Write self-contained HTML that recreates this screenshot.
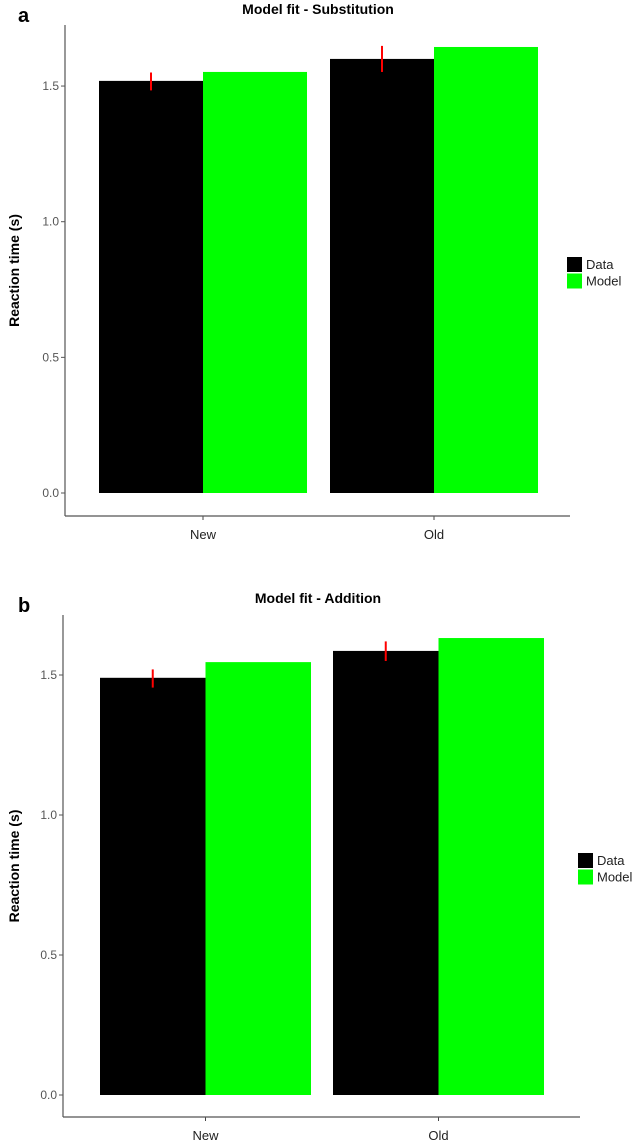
<!DOCTYPE html>
<html><head><meta charset="utf-8"><style>
body{margin:0;background:#fff;}
svg{display:block;font-family:"Liberation Sans",sans-serif;}
</style></head><body>
<svg id="fig" width="644" height="1145" viewBox="0 0 644 1145"></svg>
<script>
const categories = ["New", "Old"];
const seriesNames = ["Data", "Model"];
const aData = [1.519, 1.60];
const aModel = [1.552, 1.644];
const aErrLo = [1.484, 1.552];
const aErrHi = [1.55, 1.648];
const bData = [1.49, 1.586];
const bModel = [1.546, 1.632];
const bErrLo = [1.455, 1.55];
const bErrHi = [1.52, 1.62];
const yTicks = [0, 0.5, 1.0, 1.5];
const yTickLabels = ["0.0", "0.5", "1.0", "1.5"];

const NS = "http://www.w3.org/2000/svg";
const svg = document.getElementById("fig");
function mk(tag, attrs, parent, text){
  const e = document.createElementNS(NS, tag);
  for (const k in attrs) e.setAttribute(k, attrs[k]);
  if (text !== undefined) e.textContent = text;
  parent.appendChild(e);
  return e;
}

function chart(cfg){
  const g = mk("g", {}, svg);
  
  
  const y = v => cfg.y0 - v * cfg.unit;
  const groupW = cfg.groupW, barW = groupW / 2;
  const xGroup = i => cfg.firstX + i * cfg.groupStep;

  const lbl = mk("text", {x: 18, y: cfg.labelY, "font-size": 20, "font-weight": "bold", fill: "#000"}, g, cfg.letter);
  
  
  const t = mk("text", {x: cfg.titleX, y: cfg.titleY, "font-size": 14, "font-weight": "bold", "text-anchor": "middle", fill: "#000"}, g, cfg.title);
  
  

  for (let i = 0; i < categories.length; i++){
    const x0 = xGroup(i);
    const d = mk("rect", {x: x0, y: y(cfg.data[i]), width: barW, height: y(0) - y(cfg.data[i]), fill: "#000"}, g);
    
    
    const m = mk("rect", {x: x0 + barW, y: y(cfg.model[i]), width: barW, height: y(0) - y(cfg.model[i]), fill: "#00ff00"}, g);
    
    
    const cx = x0 + barW / 2;
    const e = mk("line", {x1: cx, x2: cx, y1: y(cfg.errLo[i]), y2: y(cfg.errHi[i]), stroke: "#ff0000", "stroke-width": 2}, g);
    
    
    const tx = x0 + barW;
    mk("line", {x1: tx, x2: tx, y1: cfg.xAxisY, y2: cfg.xAxisY + 4, stroke: "#444"}, g);
    const tl = mk("text", {x: tx, y: cfg.xAxisY + 23, "font-size": 13, "text-anchor": "middle", fill: "#222"}, g, categories[i]);
    
    
  }
  const ya = mk("line", {x1: cfg.axisX, x2: cfg.axisX, y1: cfg.axisTop, y2: cfg.xAxisY, stroke: "#555", "stroke-width": 1.2}, g);
  
  
  const xa = mk("line", {x1: cfg.axisX, x2: cfg.axisRight, y1: cfg.xAxisY, y2: cfg.xAxisY, stroke: "#555", "stroke-width": 1.2}, g);
  
  
  for (let k = 0; k < yTicks.length; k++){
    const yy = y(yTicks[k]);
    mk("line", {x1: cfg.axisX - 4, x2: cfg.axisX, y1: yy, y2: yy, stroke: "#555"}, g);
    const tl = mk("text", {x: cfg.axisX - 6, y: yy + 4, "font-size": 12, "text-anchor": "end", fill: "#555"}, g, yTickLabels[k]);
    
    
  }
  const ymid = (cfg.axisTop + cfg.xAxisY) / 2;
  const yt = mk("text", {x: 19, y: ymid, "font-size": 14, "font-weight": "bold", "text-anchor": "middle", transform: "rotate(-90 19 " + ymid + ")", fill: "#000"}, g, "Reaction time (s)");
  
  
  const colors = ["#000", "#00ff00"];
  for (let s = 0; s < seriesNames.length; s++){
    const sw = mk("rect", {x: cfg.legX, y: cfg.legY + s * 16.5, width: 15, height: 15, fill: colors[s]}, g);
    
    
    const lt = mk("text", {x: cfg.legX + 19, y: cfg.legY + s * 16.5 + 12, "font-size": 13, fill: "#222"}, g, seriesNames[s]);
    
    
  }
}

chart({name: "chart-substitution", letter: "a", labelY: 22, title: "Model fit - Substitution", titleX: 318, titleY: 14,
  data: aData, model: aModel, errLo: aErrLo, errHi: aErrHi,
  y0: 493, unit: 271.3, axisX: 65, axisTop: 25, xAxisY: 516, axisRight: 570,
  firstX: 99, groupW: 208, groupStep: 231, legX: 567, legY: 257});

chart({name: "chart-addition", letter: "b", labelY: 612, title: "Model fit - Addition", titleX: 318, titleY: 603,
  data: bData, model: bModel, errLo: bErrLo, errHi: bErrHi,
  y0: 1095, unit: 280, axisX: 63, axisTop: 615, xAxisY: 1117, axisRight: 580,
  firstX: 100, groupW: 211, groupStep: 233, legX: 578, legY: 853});
</script>
</body></html>
